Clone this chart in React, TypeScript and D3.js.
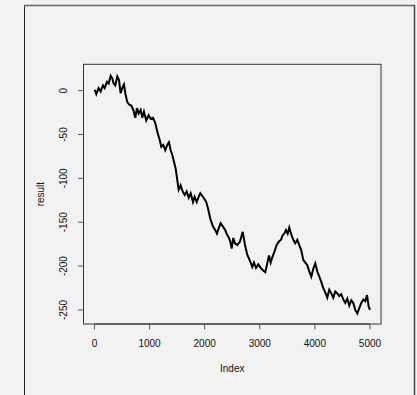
import React from 'react';
import * as d3 from 'd3';

// walk: index and value
const steps = [
  4, 33, 76, 112, 154, 185, 227, 258, 294, 323, 348, 378, 414, 445, 475, 505, 535, 566, 596, 632,
  668, 705, 741, 771, 802, 838, 868, 898, 940, 983, 1020, 1062, 1104, 1140, 1183, 1213, 1249, 1285, 1321, 1352,
  1383, 1412, 1443, 1474, 1503, 1528, 1564, 1594, 1637, 1673, 1710, 1746, 1788, 1818, 1855, 1891, 1920, 1956, 1990, 2029,
  2060, 2102, 2151, 2193, 2223, 2254, 2290, 2332, 2374, 2405, 2435, 2465, 2490, 2519, 2550, 2592, 2641, 2690, 2732, 2773,
  2822, 2864, 2895, 2931, 2973, 3016, 3063, 3100, 3136, 3167, 3198, 3227, 3263, 3307, 3348, 3385, 3415, 3444, 3475, 3506,
  3535, 3566, 3608, 3644, 3681, 3717, 3753, 3790, 3826, 3862, 3898, 3935, 3971, 4007, 4043, 4080, 4116, 4152, 4188, 4225,
  4261, 4297, 4334, 4370, 4406, 4443, 4479, 4515, 4552, 4588, 4624, 4660, 4697, 4733, 4770, 4806, 4842, 4878, 4915, 4946,
  4976, 5000,
];
const result = [
  1, -4, 3, -1, 6, 3, 10, 8, 17, 14, 8, 6, 16, 12, -3, 3, 7, -5, -13, -16,
  -17, -22, -31, -20, -26, -22, -31, -24, -34, -28, -32, -31, -37, -47, -56, -64, -62, -68, -62, -59,
  -68, -73, -81, -89, -102, -113, -108, -114, -119, -115, -122, -117, -127, -121, -127, -121, -117, -120, -123, -127,
  -134, -146, -155, -159, -163, -157, -151, -155, -159, -164, -167, -172, -180, -168, -174, -176, -172, -161, -176, -187,
  -194, -201, -196, -202, -198, -202, -205, -207, -197, -188, -196, -190, -184, -176, -172, -170, -165, -163, -159, -163,
  -156, -163, -170, -174, -170, -176, -182, -193, -196, -199, -206, -212, -203, -197, -206, -212, -218, -225, -230, -236,
  -227, -231, -236, -229, -231, -234, -232, -238, -242, -237, -245, -239, -242, -250, -254, -248, -242, -238, -240, -233,
  -246, -250,
];

const xTicks = [0, 1000, 2000, 3000, 4000, 5000];
const yTicks = [0, -50, -100, -150, -200, -250];

export default function App() {
  const W = 417, H = 395;
  const left = 83.5, right = 381, top = 64.3, bottom = 324;

  const x = d3.scaleLinear().domain([-199, 5200]).range([left, right]);
  const y = d3.scaleLinear().domain([-266, 30]).range([bottom, top]);

  const pts: [number, number][] = steps.map((s, i) => [s, result[i]]);
  const line = d3.line<[number, number]>().x(d => x(d[0])).y(d => y(d[1]));

  const font = { fontFamily: 'Liberation Sans, Arial, sans-serif', fontSize: 10, fill: '#111' };

  return (
    <svg width={W} height={H} style={{ position: 'absolute', left: 0, top: 0, background: '#f2f2f2' }}>
      <rect x={0} y={0} width={W} height={H} fill="#f2f2f2" />
      <line x1={24.5} y1={5.5} x2={24.5} y2={H} stroke="#222" strokeWidth={1} />
      <line x1={24} y1={5.5} x2={415} y2={5.5} stroke="#666" strokeWidth={1.5} />
      <line x1={414.5} y1={5} x2={414.5} y2={H} stroke="#444" strokeWidth={1.5} />

      <path d={line(pts) || ''} fill="none" stroke="#000" strokeWidth={2} strokeLinejoin="miter" />

      <rect x={left} y={top} width={right - left} height={bottom - top} fill="none" stroke="#333" strokeWidth={1} />

      <line x1={x(xTicks[0])} x2={x(xTicks[xTicks.length - 1])} y1={bottom} y2={bottom} stroke="#333" />
      {xTicks.map(t => (
        <g key={t}>
          <line x1={x(t)} x2={x(t)} y1={bottom} y2={bottom + 5.5} stroke="#555" />
          <text x={x(t)} y={347} textAnchor="middle" style={font}>{t}</text>
        </g>
      ))}
      {yTicks.map(t => (
        <g key={t}>
          <line x1={left - 5.5} x2={left} y1={y(t)} y2={y(t)} stroke="#555" />
          <text transform={`translate(67,${y(t)}) rotate(-90)`} textAnchor="middle" style={font}>{t}</text>
        </g>
      ))}
      <text x={(left + right) / 2} y={372} textAnchor="middle" style={font}>Index</text>
      <text transform={`translate(44,${(top + bottom) / 2}) rotate(-90)`} textAnchor="middle" style={font}>result</text>
    </svg>
  );
}
